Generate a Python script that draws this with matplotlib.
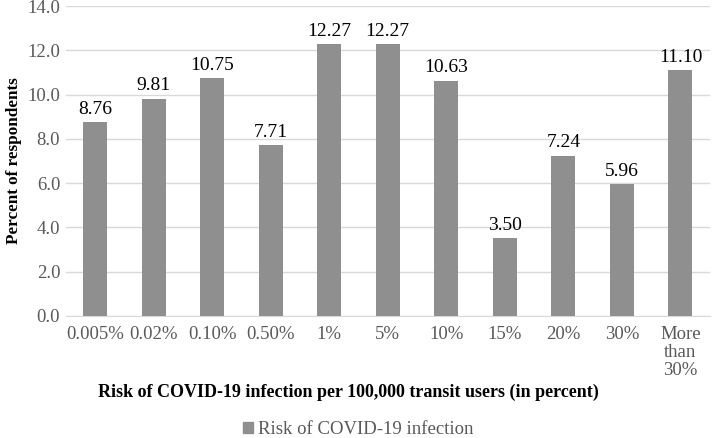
import matplotlib.pyplot as plt
import numpy as np
from matplotlib.patches import Patch

categories = ["0.005%", "0.02%", "0.10%", "0.50%", "1%", "5%", "10%", "15%", "20%", "30%", "More\nthan\n30%"]
values = [8.76, 9.81, 10.75, 7.71, 12.27, 12.27, 10.63, 3.50, 7.24, 5.96, 11.10]
series_name = "Risk of COVID-19 infection"

plt.rcParams["font.family"] = ["Liberation Serif", "DejaVu Serif"]

fig = plt.figure(figsize=(7.14, 4.38), dpi=100)
ax = fig.add_axes([0.092, 0.279, 0.902, 0.707])

x = np.arange(len(categories))
ax.bar(x, values, width=0.41, color="#8f8f8f", zorder=3)
for xi, v in zip(x, values):
    ax.text(xi, v + 0.2, f"{v:.2f}", ha="center", va="bottom", fontsize=14, color="black")

ax.set_xlim(-0.5, len(categories) - 0.5)
ax.set_ylim(0, 14)
yt = np.arange(0, 14.1, 2)
ax.set_yticks(yt)
ax.set_yticklabels([f"{t:.1f}" for t in yt])
ax.set_xticks(x)
ax.set_xticklabels(categories, linespacing=1.1)
ax.tick_params(axis="both", length=0, labelsize=13.5, labelcolor="#595959")
ax.tick_params(axis="x", pad=7)
ax.tick_params(axis="y", pad=4)
ax.grid(axis="y", color="#d9d9d9", linewidth=1, zorder=0)
for s in ["top", "right", "left"]:
    ax.spines[s].set_visible(False)
ax.spines["bottom"].set_color("#d9d9d9")

ax.set_ylabel("Percent of respondents", fontsize=12.3, fontweight="bold", labelpad=4)
fig.text(0.488, 0.105, "Risk of COVID-19 infection per 100,000 transit users (in percent)",
         ha="center", va="center", fontsize=13, fontweight="bold")

fig.legend(handles=[Patch(color="#8f8f8f", label=series_name)], loc="center",
           bbox_to_anchor=(0.502, 0.019), frameon=False, fontsize=13.5,
           handlelength=0.55, handleheight=0.55, handletextpad=0.25, labelcolor="#595959",
           borderpad=0.1)

fig.savefig("out.png", dpi=100)
